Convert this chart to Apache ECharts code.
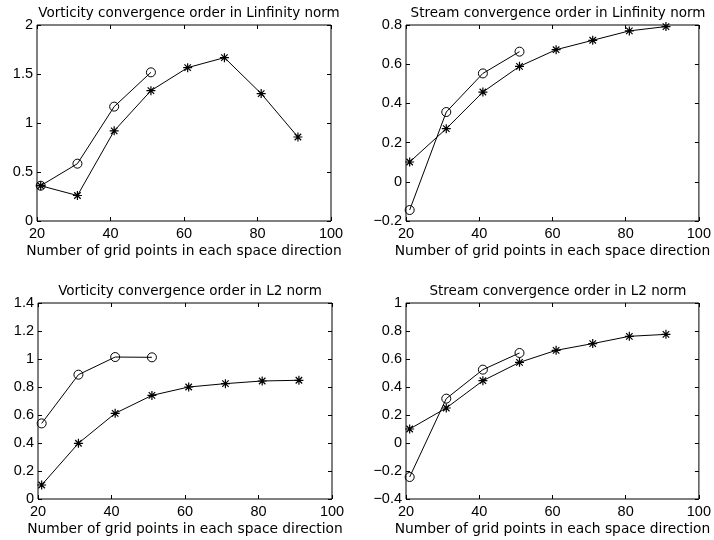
<!DOCTYPE html>
<html>
<head>
<meta charset="utf-8">
<script src="https://cdn.jsdelivr.net/npm/echarts@6/dist/echarts.min.js"></script>
<style>
  html, body { margin: 0; padding: 0; background: #fff; }
  #main { width: 714px; height: 540px; }
</style>
</head>
<body>
<div id="main"></div>
<script>
// grid sizes for the fine (star) and coarse (circle) runs
const nStar = [21, 31, 41, 51, 61, 71, 81, 91];
const nCircle = [21, 31, 41, 51];

// Vorticity, Linfinity
const vortInfStar = [0.36, 0.26, 0.92, 1.33, 1.565, 1.667, 1.30, 0.857];
const vortInfCircle = [0.36, 0.585, 1.167, 1.517];
// Stream, Linfinity
const streamInfStar = [0.101, 0.271, 0.458, 0.589, 0.674, 0.722, 0.77, 0.792];
const streamInfCircle = [-0.144, 0.356, 0.553, 0.664];
// Vorticity, L2
const vortL2Star = [0.10, 0.398, 0.612, 0.74, 0.80, 0.824, 0.843, 0.848];
const vortL2Circle = [0.54, 0.888, 1.014, 1.012];
// Stream, L2
const streamL2Star = [0.10, 0.25, 0.445, 0.576, 0.662, 0.71, 0.762, 0.776];
const streamL2Circle = [-0.243, 0.317, 0.524, 0.643];

const titles = [
  'Vorticity convergence order in Linfinity norm',
  'Stream convergence order in Linfinity norm',
  'Vorticity convergence order in L2 norm',
  'Stream convergence order in L2 norm'
];
const xName = 'Number of grid points in each space direction';
const yRanges = [[0, 2, 0.5], [-0.2, 0.8, 0.2], [0, 1.4, 0.2], [-0.4, 1, 0.2]];

const FONT = 'Liberation Sans, Arial, sans-serif';
const WIDE = 'DejaVu Sans, sans-serif';
// matlab-style '*' marker: plus and cross together
const star = 'path://M0,-5L0,5M-5,0L5,0M-3.6,-3.6L3.6,3.6M-3.6,3.6L3.6,-3.6';

const grids = [
  { left: 37, top: 25, width: 294, height: 196 },
  { left: 406, top: 25, width: 294, height: 196 },
  { left: 38, top: 303, width: 294, height: 196 },
  { left: 406, top: 303, width: 294, height: 196 }
];

function fmt(v) {
  const r = Math.round(v * 10) / 10;
  return String(r).replace('-', '\u2212');
}

const xAxis = [], yAxis = [], series = [], title = [];
const starData = [vortInfStar, streamInfStar, vortL2Star, streamL2Star];
const circleData = [vortInfCircle, streamInfCircle, vortL2Circle, streamL2Circle];

grids.forEach((g, i) => {
  g.show = true;
  g.borderColor = '#000';
  g.borderWidth = 1;
  g.containLabel = false;
  title.push({
    text: titles[i],
    left: g.left + g.width / 2,
    top: g.top - 24,
    textAlign: 'center',
    textStyle: { fontFamily: WIDE, fontSize: 13.5, fontWeight: 'normal', color: '#000' }
  });
  const tick = { show: true, inside: true, length: 4, lineStyle: { color: '#000' } };
  const line = { show: false, onZero: false };
  // bottom axis
  xAxis.push({
    type: 'value', gridIndex: i, min: 20, max: 100, interval: 20, position: 'bottom',
    axisLine: line, axisTick: tick, splitLine: { show: false },
    axisLabel: { color: '#000', fontFamily: FONT, fontSize: 14.5, margin: 5 },
    name: xName, nameLocation: 'middle', nameGap: 23,
    nameTextStyle: { color: '#000', fontFamily: WIDE, fontSize: 13.8 }
  });
  // top axis, ticks only
  xAxis.push({
    type: 'value', gridIndex: i, min: 20, max: 100, interval: 20, position: 'top',
    axisLine: line, axisTick: tick, splitLine: { show: false },
    axisLabel: { show: false }
  });
  const r = yRanges[i];
  yAxis.push({
    type: 'value', gridIndex: i, min: r[0], max: r[1], interval: r[2], position: 'left',
    axisLine: line, axisTick: tick, splitLine: { show: false },
    axisLabel: { color: '#000', fontFamily: FONT, fontSize: 14.5, margin: 4, formatter: fmt }
  });
  yAxis.push({
    type: 'value', gridIndex: i, min: r[0], max: r[1], interval: r[2], position: 'right',
    axisLine: line, axisTick: tick, splitLine: { show: false },
    axisLabel: { show: false }
  });
  series.push({
    type: 'line', xAxisIndex: 2 * i, yAxisIndex: 2 * i,
    data: nStar.map((n, k) => [n, starData[i][k]]),
    symbol: star, symbolSize: 9,
    lineStyle: { color: '#000', width: 1 },
    itemStyle: { color: 'none', borderColor: '#000', borderWidth: 1.2 },
    animation: false, silent: true
  });
  series.push({
    type: 'line', xAxisIndex: 2 * i, yAxisIndex: 2 * i,
    data: nCircle.map((n, k) => [n, circleData[i][k]]),
    symbol: 'circle', symbolSize: 9,
    lineStyle: { color: '#000', width: 1 },
    itemStyle: { color: 'none', borderColor: '#000', borderWidth: 1 },
    animation: false, silent: true
  });
});

const chart = echarts.init(document.getElementById('main'));
chart.setOption({
  backgroundColor: '#fff',
  animation: false,
  title: title,
  grid: grids,
  xAxis: xAxis,
  yAxis: yAxis,
  series: series
});
</script>
</body>
</html>
